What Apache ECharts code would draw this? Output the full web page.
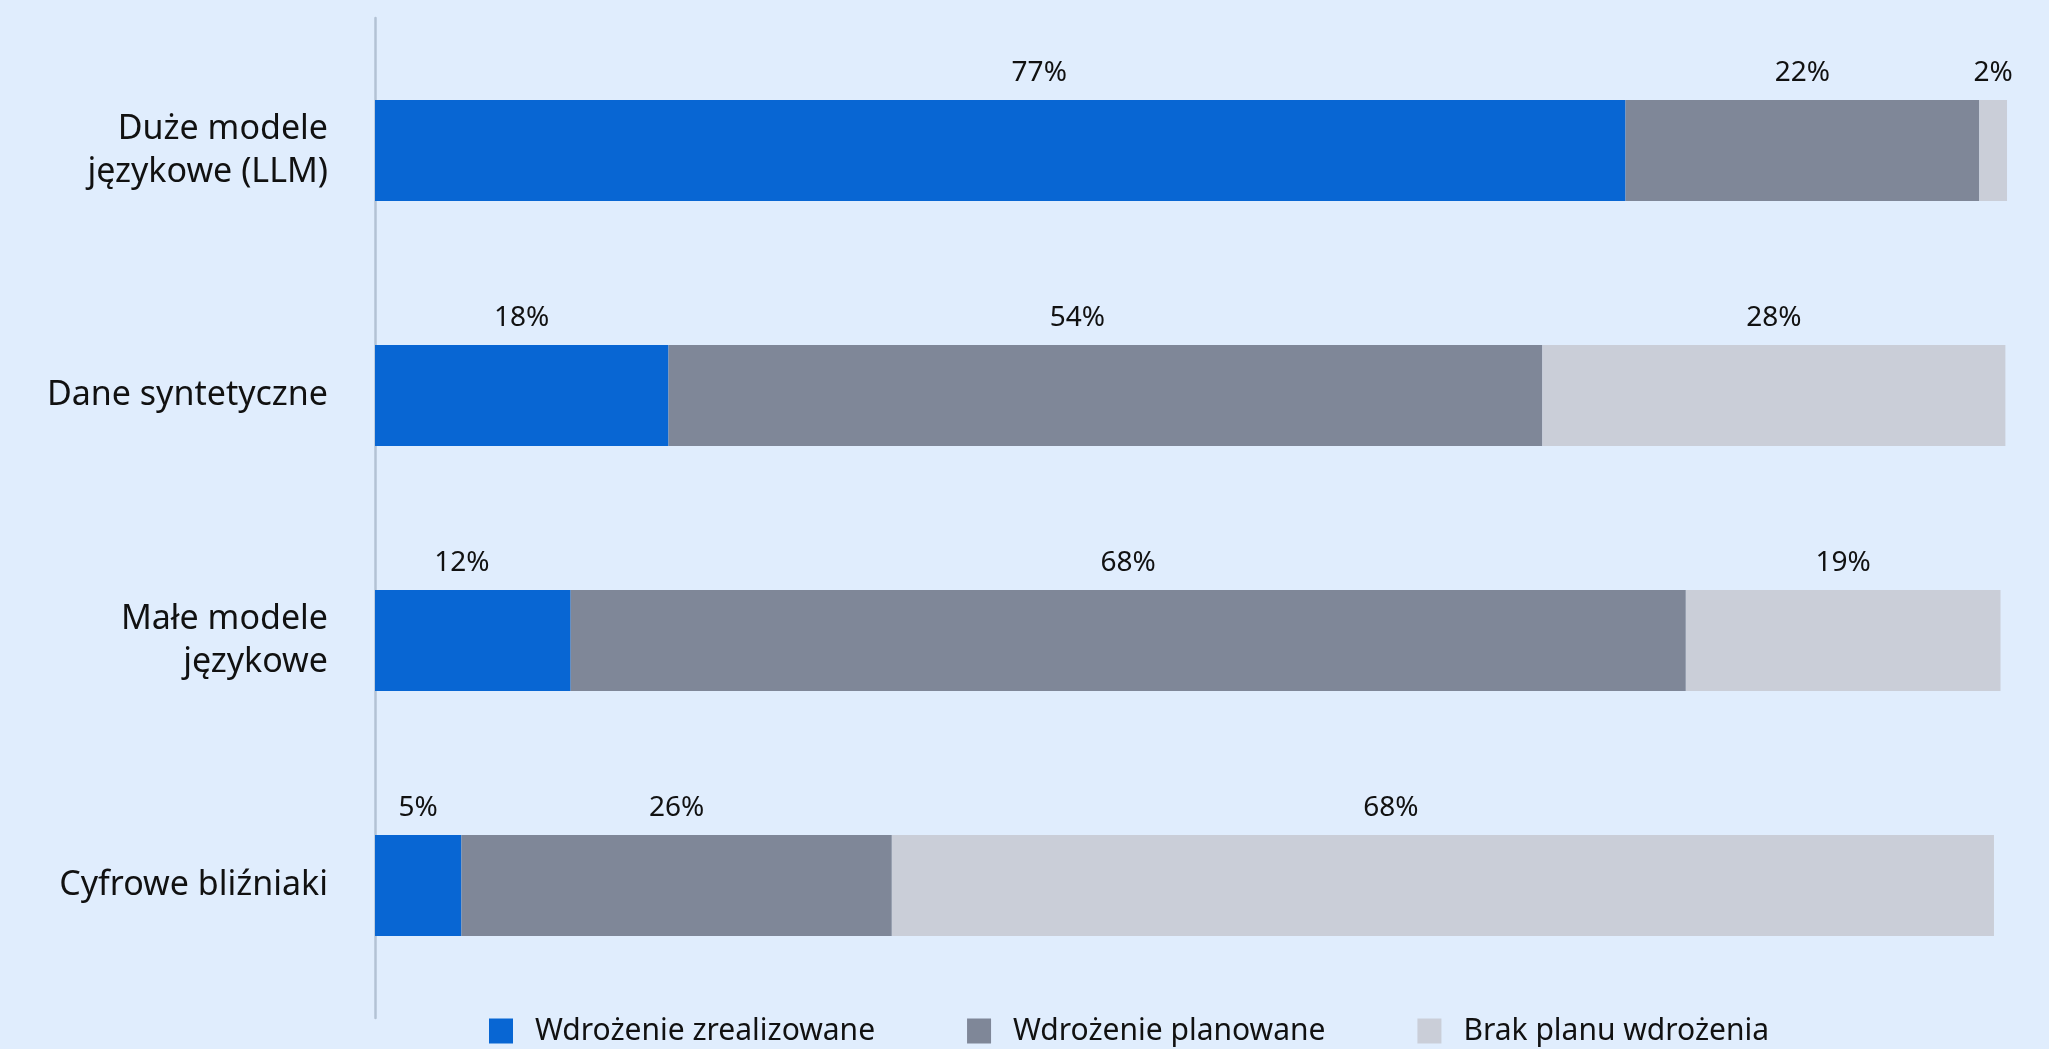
<!DOCTYPE html>
<html>
<head>
<meta charset="utf-8">
<style>
  html, body { margin: 0; padding: 0; background: #E0EDFD; }
  #chart { width: 2049px; height: 1049px; }
</style>
<script src="https://cdn.jsdelivr.net/npm/echarts@6/dist/echarts.min.js"></script>
</head>
<body>
<div id="chart"></div>
<script>
// ---- data ----
const categories = ['Duże modele\njęzykowe (LLM)', 'Dane syntetyczne', 'Małe modele\njęzykowe', 'Cyfrowe bliźniaki'];
const seriesNames = ['Wdrożenie zrealizowane', 'Wdrożenie planowane', 'Brak planu wdrożenia'];
const realized = [76.7, 18.0, 12.0, 5.3];
const planned = [21.7, 53.6, 68.4, 26.4];
const noPlan = [1.7, 28.4, 19.3, 67.6];

// ---- styling ----
const colors = ['#0866D3', '#7F8798', '#CACED8'];
const FONT = '"Noto Sans", sans-serif';
// horizontal nudges of some value labels, as in the original layout
const labelNudge = [
  [39, 0, -11, 0],
  [0, -28, 0, 0],
  [0, 0, 0, -52]
];

const chart = echarts.init(document.getElementById('chart'), null, { renderer: 'canvas' });

function makeSeries(name, values, idx) {
  return {
    name: name,
    type: 'bar',
    stack: 'total',
    xAxisIndex: 0,
    yAxisIndex: 0,
    barWidth: 101,
    clip: false,
    itemStyle: { color: colors[idx] },
    label: {
      show: true,
      position: 'top',
      distance: 13,
      fontFamily: FONT,
      fontSize: 28,
      color: '#111111',
      formatter: p => Math.round(p.value) + '%'
    },
    emphasis: { disabled: true },
    data: values.map((v, i) => ({ value: v, label: { offset: [labelNudge[idx][i], 0] } }))
  };
}

const option = {
  backgroundColor: '#E0EDFD',
  animation: false,
  textStyle: { fontFamily: FONT },
  legend: {
    left: 484,
    top: 1011,
    itemWidth: 24,
    itemHeight: 25,
    itemGap: 92,
    icon: 'rect',
    selectedMode: false,
    textStyle: { fontFamily: FONT, fontSize: 30, color: '#111111', padding: [0, 0, 0, 17] },
    data: seriesNames
  },
  grid: [
    { left: 375, top: 28, height: 980, width: 1663 },
    { left: 375, top: 18, height: 1000, width: 1 }
  ],
  xAxis: [
    { type: 'value', gridIndex: 0, min: 0, max: 102, show: false },
    { type: 'value', gridIndex: 1, min: 0, max: 1, show: false }
  ],
  yAxis: [
    {
      type: 'category',
      gridIndex: 0,
      inverse: true,
      data: categories,
      axisLine: { show: false },
      axisTick: { show: false },
      splitLine: { show: false },
      axisLabel: {
        margin: 47,
        fontFamily: FONT,
        fontSize: 34,
        lineHeight: 43,
        color: '#111111',
        align: 'right'
      }
    },
    {
      type: 'value',
      gridIndex: 1,
      min: 0,
      max: 1,
      axisLine: { show: true, lineStyle: { color: '#B3C2D4', width: 2.5 } },
      axisTick: { show: false },
      axisLabel: { show: false },
      splitLine: { show: false }
    }
  ],
  series: [
    makeSeries(seriesNames[0], realized, 0),
    makeSeries(seriesNames[1], planned, 1),
    makeSeries(seriesNames[2], noPlan, 2)
  ]
};

chart.setOption(option);
</script>
</body>
</html>
